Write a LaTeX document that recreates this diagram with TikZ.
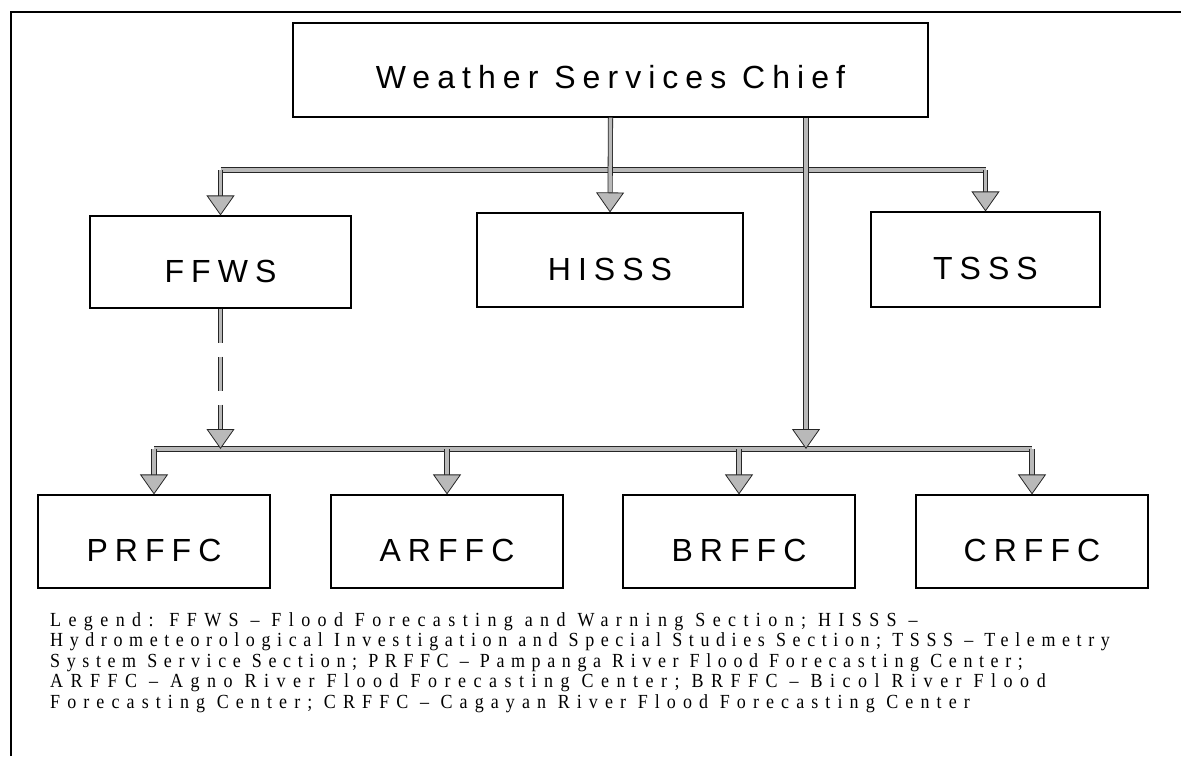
\documentclass[tikz,border=0pt]{standalone}
\usepackage{fontspec}
\setmainfont{Liberation Serif}
\newfontfamily\boxfont[LetterSpace=22]{Liberation Sans}
\newfontfamily\legfont[LetterSpace=33,FakeStretch=0.9]{Liberation Serif}
\usetikzlibrary{arrows.meta}
\begin{document}
\begin{tikzpicture}[x=1pt,y=-1pt,
  orgbox/.style={draw=black, line width=1.1pt, fill=white, inner sep=0pt,
    minimum width=232pt, minimum height=93pt, text height=40pt, text depth=0pt,
    font=\boxfont\fontsize{32}{38}\selectfont},
  conn/.style={draw=black!85, line width=0.8pt, double=gray!55, double distance=3.5pt},
  tipdown/.style={-{Triangle[width=28pt,length=20pt,fill=gray!55,line width=0.8pt]}},
  frameline/.style={draw=black, line width=1.4pt}
]
\useasboundingbox (0,0) rectangle (1181,756);
% frame
\coordinate (fbl) at (11,756);
\coordinate (ftl) at (11,12);
\coordinate (ftr) at (1181,12);
\draw[frameline] (fbl) -- (ftl) -- (ftr);

% nodes
\node[orgbox, minimum width=635pt, minimum height=94pt, text height=36pt] (chief) at (610.5,70) {Weather Services Chief};
\node[orgbox, minimum width=261pt, minimum height=92pt] (ffws) at (220.5,262) {FFWS};
\node[orgbox, minimum width=266pt, minimum height=94pt] (hisss) at (610,260) {HISSS};
\node[orgbox, minimum width=229pt, minimum height=95pt] (tsss) at (985.5,259.5) {TSSS};
\node[orgbox] (prffc) at (154,541.5) {PRFFC};
\node[orgbox] (arffc) at (447,541.5) {ARFFC};
\node[orgbox] (brffc) at (739,541.5) {BRFFC};
\node[orgbox] (crffc) at (1032,541.5) {CRFFC};

% connectors top
\coordinate (tbus) at (610.5,170);
\draw[conn] (ffws.north |- tbus) -- (tsss.north |- tbus);
\draw[conn,tipdown] (ffws.north |- tbus) -- (ffws.north);
\draw[conn,tipdown] (tsss.north |- tbus) -- (tsss.north);
\draw[conn,tipdown] (chief.south) -- (hisss.north);

% bottom bus
\coordinate (bbus) at (600,449);
\coordinate (jn) at (806,449);
\draw[conn] (prffc.north |- bbus) -- (crffc.north |- bbus);
\draw[conn,tipdown] (prffc.north |- bbus) -- (prffc.north);
\draw[conn,tipdown] (arffc.north |- bbus) -- (arffc.north);
\draw[conn,tipdown] (brffc.north |- bbus) -- (brffc.north);
\draw[conn,tipdown] (crffc.north |- bbus) -- (crffc.north);
\draw[conn,tipdown] (chief.south -| jn) -- (jn);
\draw[conn,tipdown,dash pattern=on 34pt off 14pt] (ffws.south) -- (ffws.south |- bbus);

% legend
\node[anchor=north west, align=left, inner sep=0pt,
  font=\legfont\fontsize{20}{20.5}\selectfont] (legend) at (50,612)
  {{\addfontfeature{LetterSpace=37}Legend: FFWS – Flood Forecasting and Warning Section; HISSS –}\\
   Hydrometeorological Investigation and Special Studies Section; TSSS – Telemetry\\
   System Service Section; PRFFC – Pampanga River Flood Forecasting Center;\\
   {\addfontfeature{LetterSpace=37.5}ARFFC – Agno River Flood Forecasting Center; BRFFC – Bicol River Flood}\\
   {\addfontfeature{LetterSpace=35.5}Forecasting Center; CRFFC – Cagayan River Flood Forecasting Center}};
\end{tikzpicture}
\end{document}
